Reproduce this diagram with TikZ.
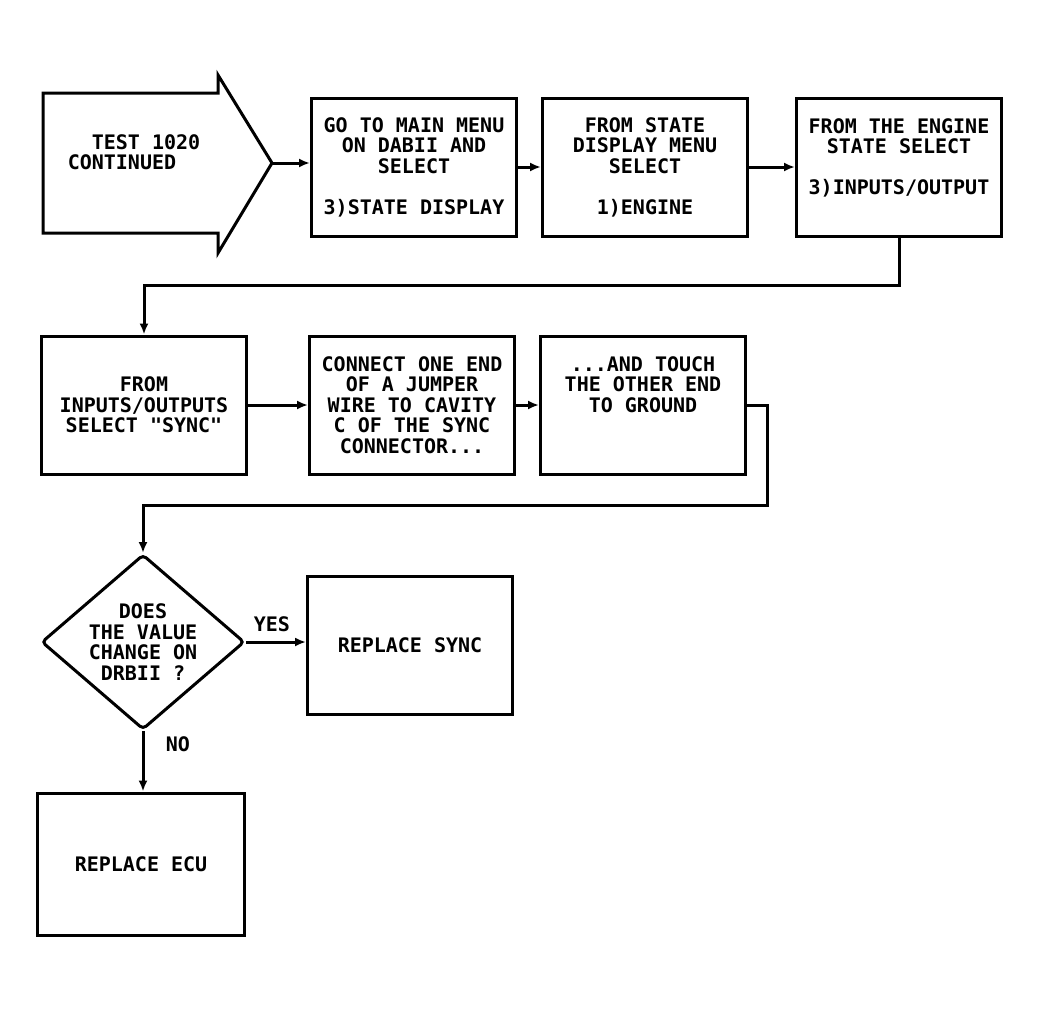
\documentclass[tikz,border=0pt]{standalone}
\usepackage{fontspec}
\usepackage{tikz}
\usetikzlibrary{shapes.geometric,arrows.meta}
\newfontfamily\plotter{DejaVu Sans Mono}

\begin{document}
\begin{tikzpicture}[x=1pt,y=-1pt,line width=3pt,
    font=\plotter\bfseries\fontsize{20pt}{20.5pt}\selectfont,
    >={Latex[length=11pt,width=9pt]},
    box/.style={draw,rectangle,align=center,minimum width=205pt,minimum height=138pt,inner sep=0pt},
    decision/.style={draw,diamond,aspect=1.16,align=center,minimum width=203pt,minimum height=175pt,inner sep=0pt,rounded corners=4pt}]
                        \useasboundingbox (0,0) rectangle (1040,1012);

                        % Nodes
                        \draw (43,93) -- (218,93) -- (218,75) -- (272,163) -- (218,253) -- (218,233) -- (43,233) -- cycle;
                        \coordinate (tip) at (272,163);
                        \node[align=left] (start) at (134,152) {~~TEST 1020\\CONTINUED};
                        \node[box] (menu) at (414,167) {GO TO MAIN MENU\\ON DABII AND\\SELECT\\~\\3)STATE DISPLAY};
                        \node[box] (state) at (645,167) {FROM STATE\\DISPLAY MENU\\SELECT\\~\\1)ENGINE};
                        \node[box] (engine) at (899,167) {FROM THE ENGINE\\STATE SELECT\\~\\3)INPUTS/OUTPUT\\~};
                        \node[box] (sync) at (144,405) {FROM\\INPUTS/OUTPUTS\\SELECT "SYNC"};
                        \node[box] (jumper) at (412,405) {CONNECT ONE END\\OF A JUMPER\\WIRE TO CAVITY\\C OF THE SYNC\\CONNECTOR...};
                        \node[box] (ground) at (643,405) {...AND TOUCH\\THE OTHER END\\TO GROUND\\~\\~};
                        \node[decision] (change) at (143,642) {DOES\\THE VALUE\\CHANGE ON\\DRBII ?};
                        \node[box] (replsync) at (410,645) {REPLACE SYNC};
                        \node[box, minimum width=207pt, minimum height=142pt] (replecu) at (141,864) {REPLACE ECU};

                        % Edges
                        \draw[->] (tip) -- (tip -| menu.west);
                        \draw[->] (menu) -- (state);
                        \draw[->] (state) -- (engine);
                        \draw[->] (engine.south) -- ++(0,48) -| (sync.north);
                        \draw[->] (sync) -- (jumper);
                        \draw[->] (jumper) -- (ground);
                        \draw[->] (ground.east) -- ++(20,0) -- ++(0,100) -| (change.north);

                        \draw[->] (change.east) -- node[pos=0, anchor=base west, xshift=3pt, yshift=11pt] (yes) {YES} (change.east -| replsync.west);
                        \draw[->] (change.south) -- node[pos=0, anchor=base west, xshift=18pt, yshift=-20pt] (no) {NO} (change.south |- replecu.north);
                    \end{tikzpicture}
\end{document}
